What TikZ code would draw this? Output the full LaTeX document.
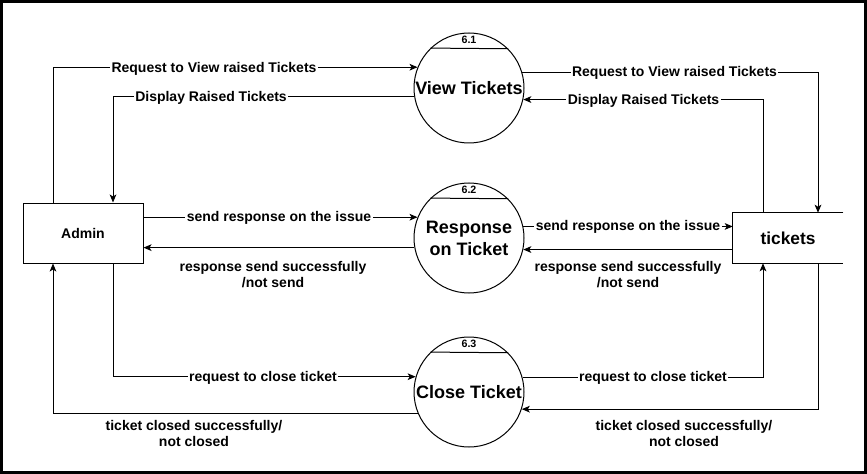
\documentclass[tikz,border=0pt]{standalone}
\usepackage{fontspec}
\setmainfont{Liberation Sans}
\usetikzlibrary{arrows.meta,calc}
\tikzset{
  px/.style={x=0.75pt,y=-0.75pt},
  proc/.style={circle,draw,line width=0.75pt,minimum size=82.5pt,inner sep=0pt},
  lbl/.style={fill=white,inner sep=1pt,font=\bfseries\fontsize{10.5}{12}\selectfont,align=center},
  flow/.style={line width=0.75pt,-{Stealth[length=6pt,width=5pt,inset=1.5pt]}},
  ptext/.style={font=\bfseries\fontsize{13.5}{16.5}\selectfont,align=center},
  num/.style={font=\bfseries\fontsize{8}{9}\selectfont,inner sep=0pt}
}
\begin{document}
\begin{tikzpicture}[px]
\useasboundingbox (0,0) rectangle (867,474);
\draw[line width=2.25pt] (1.5,1.5) rectangle (865.5,472.5);

% entities
\node[draw,line width=0.75pt,minimum width=90pt,minimum height=45pt,inner sep=0pt,font=\bfseries\fontsize{10.5}{12}\selectfont] (admin) at (83,233) {Admin};
\node[minimum width=82.5pt,minimum height=37.5pt,inner sep=0pt,font=\bfseries\fontsize{13}{15}\selectfont] (t) at (788,238) {tickets};
\draw[line width=0.75pt] (t.north east) -- (t.north west) -- (t.south west) -- (t.south east);

% processes
\node[proc] (v) at (469,88) {};
\node[proc] (r) at (469,238) {};
\node[proc] (c) at (469,392) {};
\foreach \p/\n in {v/6.1,r/6.2,c/6.3}{
  \draw[line width=0.75pt] (\p.45.2) -- (\p.134.8);
  \node[num] (\p num) at ($(\p.center)+(0,-48)$) {\n};
}
\node[ptext] (vt) at (v.center) {View Tickets};
\node[ptext] (rt) at ($(r.center)+(0,0)$) {Response\\on Ticket};
\node[ptext] (ct) at (c.center) {Close Ticket};

% flows view
\draw[flow] ($(admin.north)+(-30,0)$) |- (v.158.7);
\draw[flow] (v.189.4) -| ($(admin.north)+(30,0)$);
\draw[flow] (v.16.9) -| ($(t.north)+(30,0)$);
\draw[flow] ($(t.north)+(-25,0)$) |- (v.-12.6);
% flows response
\draw[flow] (r.158.7 -| admin.east) -- (r.158.7);
\draw[flow] (r.190.5) -- (r.190.5 -| admin.east);
\draw[flow] (r.12.6) -- (r.12.6 -| t.west);
\draw[flow] (r.-12.6 -| t.west) -- (r.-12.6);
% flows close
\draw[flow] ($(admin.south)+(30,0)$) |- (c.164.2);
\draw[flow] (c.203.6) -| ($(admin.south)+(-30,0)$);
\draw[flow] (c.15.8) -| ($(t.south)+(-25,0)$);
\draw[flow] ($(t.south)+(30,0)$) |- (c.-18);

% labels
\node[lbl] (l1) at (214,68.5) {Request to View raised Tickets};
\node[lbl] (l2) at (211,97.5) {Display Raised Tickets};
\node[lbl] (l3) at (674.5,72.5) {Request to View raised Tickets};
\node[lbl] (l4) at (643.5,100.5) {Display Raised Tickets};
\node[lbl] (l5) at (279,218) {send response on the issue};
\node[lbl] (l6) at (628,226.5) {send response on the issue};
\node[lbl] (l7) at (273,274.5) {response send successfully\\/not send};
\node[lbl] (l8) at (628,274.5) {response send successfully\\/not send};
\node[lbl] (l9) at (263,377.5) {request to close ticket};
\node[lbl] (l10) at (653,377.5) {request to close ticket};
\node[lbl] (l11) at (194,433.5) {ticket closed successfully/\\not closed};
\node[lbl] (l12) at (684,433.5) {ticket closed successfully/\\not closed};
\end{tikzpicture}
\end{document}
